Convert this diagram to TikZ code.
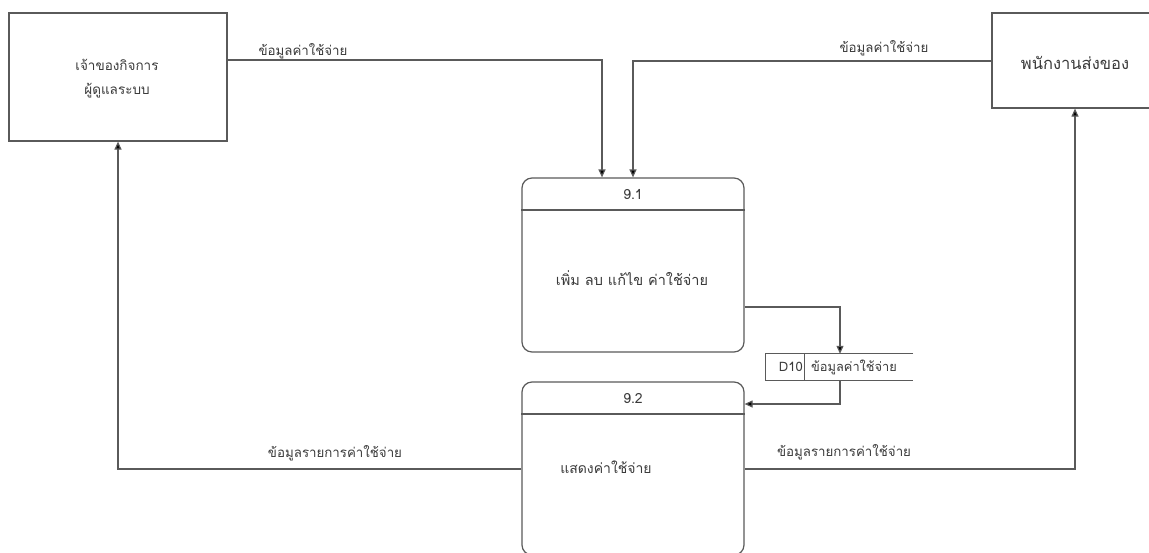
\documentclass[tikz,border=0pt]{standalone}
\usepackage{fontspec}
\setmainfont[Script=Thai]{Loma}
\usetikzlibrary{arrows.meta,calc}
\definecolor{ln}{HTML}{5A5A5A}
\definecolor{tx}{HTML}{3A3A3A}
\begin{document}
\begin{tikzpicture}[x=1pt,y=-1pt,
  ent/.style={draw=ln, line width=1.2pt, inner sep=0pt},
  proc/.style={draw=ln, line width=1.2pt, rounded corners=10pt, inner sep=0pt, minimum width=222pt},
  flow/.style={draw=ln, line width=1.2pt, -{Triangle[length=8pt,width=7pt,fill=black]}},
  lbl/.style={text=tx, font=\fontsize{13.3}{15}\selectfont, inner sep=0pt},
  big/.style={text=tx, font=\fontsize{14}{16}\selectfont, inner sep=0pt}]
\clip (0,0) rectangle (1149,552);
\fill[white] (0,0) rectangle (1149,552);

% external entities
\node[ent, minimum width=218pt, minimum height=128pt] (owner) at (118,77) {};
\node[text=tx, font=\fontsize{13.5}{24}\selectfont, align=center, inner sep=0pt] (ownert) at (117,79) {เจ้าของกิจการ\\ผู้ดูแลระบบ};
\node[ent, minimum width=166pt, minimum height=95pt] (staff) at (1075,60.5) {};
\node[big, font=\fontsize{16.5}{18}\selectfont] (stafft) at (1075,63) {พนักงานส่งของ};

% processes
\node[proc, minimum height=174pt] (p1) at (633,265) {};
\node[proc, minimum height=173pt] (p2) at (633,468.5) {};
\coordinate (h1) at (633,210);
\coordinate (h2) at (633,414);
\draw[ln, line width=1.2pt] (p1.west |- h1) -- (p1.east |- h1);
\draw[ln, line width=1.2pt] (p2.west |- h2) -- (p2.east |- h2);
\node[big] (p1n) at (633,195) {9.1};
\node[big] (p2n) at (633,399) {9.2};
\node[big, font=\fontsize{14.5}{16}\selectfont] (p1t) at (632,278) {เพิ่ม ลบ แก้ไข ค่าใช้จ่าย};
\node[big, font=\fontsize{14}{16}\selectfont] (p2t) at (606,467) {แสดงค่าใช้จ่าย};

% data store
\node[minimum width=147pt, minimum height=26pt, inner sep=0pt] (store) at (839.5,367) {};
\draw[ln, line width=1.2pt] (store.north east) -- (store.north west) -- (store.south west) -- (store.south east);
\draw[ln, line width=1.2pt] ($(store.north west)+(39,0)$) -- ($(store.south west)+(39,0)$);
\node[lbl, font=\fontsize{13}{15}\selectfont, anchor=east] (sid) at (803,367) {D10};
\node[lbl, font=\fontsize{12.8}{15}\selectfont] (sname) at (854,367) {ข้อมูลค่าใช้จ่าย};

% connectors
\coordinate (c1) at (602,60);
\coordinate (c2) at (633,61);
\coordinate (c3) at (840,307);
\coordinate (c4) at (840,404);
\coordinate (c5) at (118,469);
\coordinate (c6) at (1075,469);
\draw[flow] (owner.east |- c1) -| (p1.north -| c1);
\draw[flow] (staff.west |- c2) -| (p1.north -| c2);
\draw[flow] (p1.east |- c3) -| (store.north -| c3);
\draw[flow] (store.south -| c4) |- (p2.east |- c4);
\draw[flow] (p2.west |- c5) -| (owner.south -| c5);
\draw[flow] (p2.east |- c6) -| (staff.south -| c6);

% flow labels
\node[lbl] (l1) at (303,51) {ข้อมูลค่าใช้จ่าย};
\node[lbl] (l2) at (884,48) {ข้อมูลค่าใช้จ่าย};
\node[lbl] (l3) at (335,453) {ข้อมูลรายการค่าใช้จ่าย};
\node[lbl] (l4) at (844,452) {ข้อมูลรายการค่าใช้จ่าย};
\end{tikzpicture}
\end{document}
